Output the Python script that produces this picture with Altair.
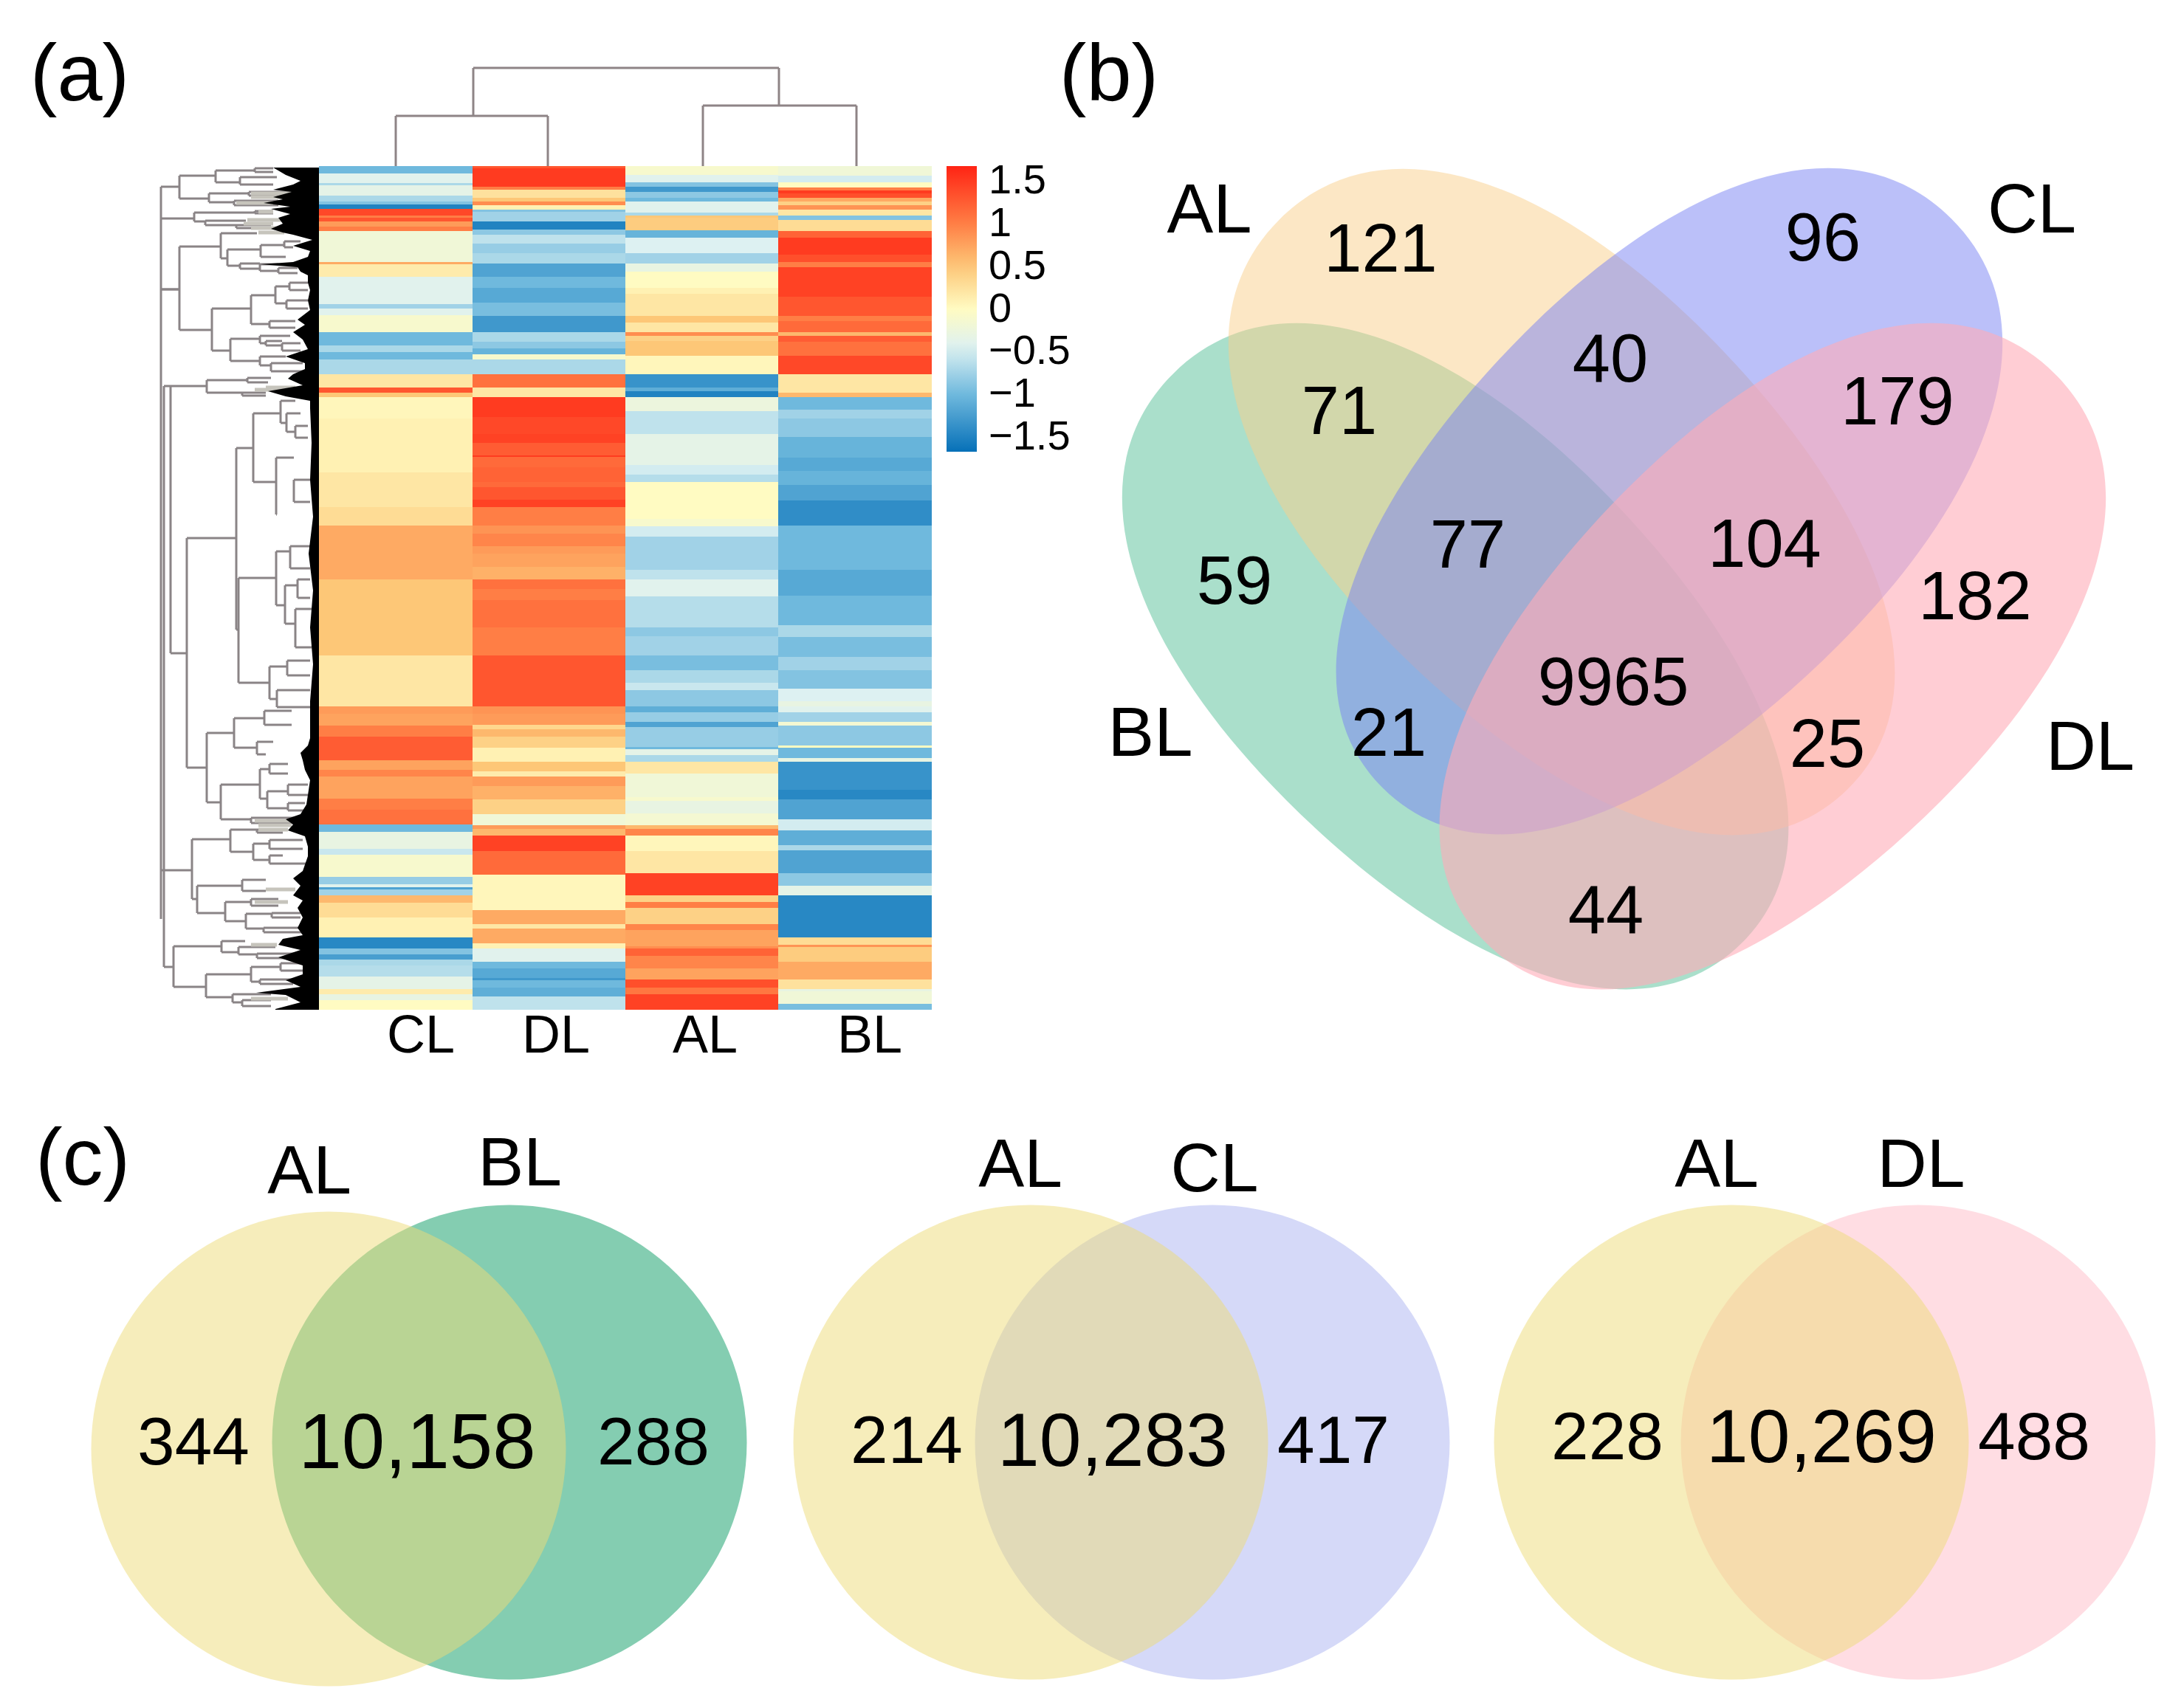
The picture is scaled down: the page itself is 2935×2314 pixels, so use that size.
import altair as alt
import pandas as pd

FONT = "Liberation Sans"

# ---------- heatmap ----------
col_names = ["CL", "DL", "AL", "BL"]
col_left = [432, 640, 847, 1054]
col_right = [640, 847, 1054, 1262]

CL_edges = [225,235,248,251,265,273,277,283,292,295,300,307,313,355,358,375,412,418,427,450,457,468,477,487,507,525,532,538,
            567,640,687,712,785,888,957,967,983,998,1030,1043,1052,1082,1097,1117,1127,1150,1158,1188,1198,1202,1205,1213,1223,1243,1270,1285,1293,1300,1308,1323,1340,1347,1355,1368]
CL_vals = [-1.0,-0.4,-0.7,-0.35,-0.7,-0.9,-1.5,1.4,1.0,1.3,0.8,1.0,-0.2,0.7,0.15,-0.4,-0.75,-0.4,-0.1,-1.0,-1.0,-0.7,-1.0,-0.7,0.2,1.3,0.5,
           0.05,0.1,0.2,0.3,0.7,0.5,0.2,0.8,0.75,1.0,1.25,0.75,0.95,0.75,1.0,1.1,-1.0,-0.3,-0.55,-0.1,-0.8,-0.4,-1.2,-0.75,0.6,0.3,0.1,-1.45,-0.9,-1.25,-0.7,-0.65,-0.35,0.15,-0.3,0.0]

DL_edges = [225,228,253,257,268,273,278,284,287,300,311,318,330,343,357,375,390,410,428,450,463,472,480,487,507,525,538,
            565,588,600,617,619,633,653,660,677,687,712,723,740,750,768,785,798,813,850,888,957,967,982,988,998,1013,1032,1045,1052,1065,1083,1103,1118,1123,1132,1153,1185,1233,1252,1258,1278,1285,1303,1312,1325,1328,1338,1350,1368]
DL_vals = [1.3,1.5,1.0,0.25,0.5,0.9,0.1,-0.9,-0.75,-1.5,-0.85,-0.6,-0.8,-0.7,-1.2,-1.0,-1.15,-0.95,-1.3,-0.7,-0.85,-1.05,-0.1,-0.7,1.1,0.2,
           1.5,1.4,1.45,1.25,1.5,1.15,1.2,1.15,1.3,1.45,1.0,0.85,0.95,0.8,0.75,0.65,1.1,1.0,1.1,1.0,1.3,0.85,0.8,0.35,0.6,0.4,0.1,0.5,0.15,0.8,0.65,0.4,-0.2,0.8,0.6,1.45,1.15,0.05,0.7,0.2,0.7,0.1,-0.4,-1.0,-1.15,-1.3,-1.0,-1.1,-0.6]

AL_edges = [225,237,247,253,260,268,273,288,292,295,312,322,343,357,368,390,398,428,437,450,455,462,482,507,525,530,538,
            557,588,630,643,653,703,713,727,772,785,808,850,862,888,908,925,935,957,965,978,985,1012,1015,1023,1032,1048,1080,1085,1102,1118,1123,1132,1153,1183,1213,1222,1230,1252,1260,1282,1285,1295,1312,1327,1338,1347,1368]
AL_vals = [-0.1,-0.4,-0.9,-1.3,-0.85,-1.0,-0.4,-0.7,0.5,0.45,-1.05,-0.45,-0.75,-0.3,0.0,0.1,0.2,0.5,0.2,0.9,0.4,0.5,0.05,-1.35,-1.1,-1.5,
           -0.25,-0.6,-0.35,-0.5,-0.65,0.0,-0.1,-0.5,-0.75,-0.6,-0.4,-0.65,-0.85,-0.75,-0.95,-0.7,-0.55,-0.85,-1.1,-0.8,-1.2,-0.8,-1.0,-0.35,-0.7,0.2,-0.2,-0.1,-0.3,-0.15,0.6,0.95,0.05,0.2,1.45,0.4,1.0,0.4,0.95,0.75,0.9,1.2,0.95,0.75,1.35,1.05,1.45]

BL_edges = [225,238,247,254,258,262,268,273,278,284,292,298,313,322,345,355,362,402,428,435,450,455,463,482,507,525,532,538,
            555,567,592,620,638,657,678,712,772,807,847,863,890,908,933,950,957,965,978,983,1010,1013,1027,1032,1070,1083,1110,1125,1145,1152,1183,1200,1213,1270,1280,1283,1303,1327,1340,1343,1360,1368]
BL_vals = [-0.2,-0.5,0.0,1.0,1.5,1.35,0.7,0.4,0.85,0.2,-0.9,0.3,1.2,1.5,1.35,1.0,1.45,1.3,1.0,1.15,0.6,1.25,1.1,1.4,0.2,0.2,0.6,
           -1.0,-0.75,-0.85,-1.05,-1.15,-1.05,-1.2,-1.4,-1.0,-1.15,-1.0,-0.7,-0.95,-0.75,-0.9,-0.45,-0.3,-0.4,-0.75,-0.15,-0.85,0.0,-1.0,-0.3,-1.35,-1.45,-1.2,-0.5,-1.1,-0.7,-1.2,-0.85,-0.35,-1.45,0.3,0.85,0.45,0.7,0.25,-0.3,-0.2,-0.95]

color_domain = [-1.67, -1.0, -0.45, 0.0, 0.5, 1.0, 1.67]
color_range = ["#0670B8", "#6FB9DD", "#DDF1F2", "#FFFBC2", "#FDC777", "#FF7E45", "#FF2414"]
legend_values = [1.5, 1, 0.5, 0, -0.5, -1, -1.5]

# ---------- dendrograms: x of bracket, its y span, and where each arm ends ----------
top_x = [641, 1055, 847]
top_y1 = [157, 143, 92]
top_y2 = [225, 225, 157]
top_xa = [536, 952, 641]
top_xb = [742, 1160, 1055]
top_ya = [225, 225, 157]
top_yb = [225, 225, 143]

node_x  = [218, 243, 292, 325, 345, 283, 317, 337, 218, 263, 278, 320, 345,
           218, 243, 299, 308, 353, 385, 325, 352, 377, 287, 340, 373, 392, 388, 365, 312, 352, 360, 382, 352, 367,
           222, 231, 280, 335, 328, 253, 320, 343, 380, 388, 400, 374, 398, 323, 374, 393, 386, 403, 400, 365, 389, 375,
           280, 299, 352, 365, 362, 390, 390, 340, 317, 348, 358,
           218, 260, 312, 348, 343, 365, 365, 267, 328, 305, 340, 333, 368, 357,
           235, 300, 323, 348, 279, 340, 380, 352, 315, 328]
node_y1 = [253, 238, 231, 240, 228, 262, 272, 260, 296, 288, 299, 305, 286,
           392, 334, 316, 338, 332, 327, 357, 358, 363, 418, 400, 388, 383, 407, 435, 459, 455, 462, 465, 483, 492,
           523, 523, 515, 512, 532, 729, 607, 560, 543, 560, 577, 620, 650, 783, 747, 740, 793, 785, 825, 903, 895, 935,
           993, 1063, 1042, 1035, 1072, 1063, 1088, 1108, 973, 1005, 963,
           1179, 1137, 1124, 1124, 1143, 1138, 1159, 1200, 1192, 1222, 1218, 1238, 1237, 1257,
           1282, 1275, 1283, 1292, 1320, 1310, 1305, 1327, 1347, 1355]
node_y2 = [296, 269, 247, 250, 233, 274, 278, 265, 392, 300, 305, 309, 289,
           1179, 447, 350, 360, 348, 335, 364, 367, 370, 475, 439, 411, 393, 418, 444, 489, 465, 468, 475, 495, 503,
           1310, 885, 532, 518, 536, 1040, 853, 653, 573, 585, 593, 697, 680, 925, 820, 770, 845, 810, 877, 947, 915, 958,
           1087, 1110, 1082, 1048, 1095, 1077, 1098, 1115, 1013, 1022, 982,
           1245, 1218, 1154, 1128, 1165, 1150, 1170, 1237, 1207, 1248, 1227, 1258, 1243, 1263,
           1337, 1290, 1293, 1298, 1351, 1330, 1315, 1333, 1358, 1363]
node_xa = [243, 292, 345, 375, 370, 337, 377, 393, 263, 345, 333, 367, 370,
           243, 299, 348, 353, 385, 407, 352, 377, 403, 340, 373, 392, 417, 417, 400, 352, 393, 382, 407, 387, 410,
           231, 280, 335, 367, 360, 320, 343, 380, 400, 407, 417, 398, 420, 374, 393, 420, 403, 420, 422, 389, 420, 420,
           317, 352, 365, 390, 390, 417, 413, 403, 358, 370, 395,
           260, 312, 348, 383, 365, 410, 383, 328, 360, 340, 377, 368, 407, 410,
           300, 332, 373, 407, 340, 380, 410, 397, 367, 367]
node_xb = [218, 283, 325, 370, 370, 317, 377, 393, 243, 278, 320, 367, 370,
           218, 287, 308, 325, 387, 397, 352, 377, 403, 312, 365, 388, 417, 417, 400, 352, 360, 382, 407, 367, 410,
           235, 253, 328, 363, 360, 280, 323, 374, 388, 400, 417, 375, 420, 365, 386, 420, 400, 420, 422, 375, 420, 420,
           299, 340, 362, 390, 390, 417, 413, 403, 348, 360, 395,
           218, 267, 343, 383, 365, 410, 417, 305, 360, 333, 377, 357, 407, 410,
           279, 323, 348, 407, 315, 352, 410, 397, 328, 367]

fringe_y  = [262, 267, 275, 298, 303, 309, 287, 315, 528, 525, 1112, 1118, 1124, 1205, 1222, 1280, 1353]
fringe_x1 = [340, 340, 320, 335, 330, 340, 350, 350, 345, 360, 345, 350, 350, 360, 345, 340, 340]
fringe_x2 = [395, 395, 370, 390, 370, 380, 370, 385, 400, 400, 400, 395, 390, 400, 390, 375, 390]

wedge_y = [227,237,245,250,257,260,267,270,275,280,283,290,295,303,310,315,318,325,333,340,348,355,358,362,368,373,383,393,407,420,433,440,450,460,473,483,492,500,507,513,522,530,537,543,553,
           600,650,700,750,800,850,900,950,1000,1010,1020,1030,1043,1057,1077,1090,1103,1110,1117,1125,1133,1147,1160,1180,1190,1200,1213,1220,1230,1243,1257,1267,1272,1280,1287,1297,1308,1320,1328,1337,1345,1348,1358,1367,1368]
wedge_x = [370,387,407,397,370,395,370,383,357,393,367,393,377,383,367,383,397,423,397,420,417,397,353,403,407,417,417,420,417,420,403,413,397,410,417,387,413,413,397,390,410,363,387,420,420,
           422,420,424,418,424,420,424,420,420,417,407,410,413,420,417,415,407,387,397,390,413,417,417,410,397,407,397,410,403,410,403,410,383,377,407,377,410,410,387,407,347,387,407,373,373]

# ---------- four-set Venn ----------
venn_names = ["BL", "AL", "CL", "DL"]
venn_x = [1974, 2118, 2258, 2398]
venn_y = [892, 683, 682, 892]
venn_angle = [45, 45, 135, 135]
venn_color = ["#55BF97", "#F9CF8C", "#7781F3", "#FFACB8"]
venn_opacity = [0.5, 0.5, 0.5, 0.6]
ELLIPSE_WIDTH = 1090

# ---------- two-set Venns ----------
circle_x = [690, 445, 1642, 1396, 2598, 2345]
circle_y = [1954, 1963, 1954, 1954, 1954, 1954]
circle_color = ["#099B63", "#EDDB77", "#ABB3F1", "#EDDB77", "#FFBBC7", "#EDDB77"]
CIRCLE_WIDTH = 643

# ---------- texts ----------
txt = ["(a)", "(b)", "(c)",
       "CL", "DL", "AL", "BL",
       "AL", "CL", "BL", "DL", "121", "96", "40", "71", "179", "77", "104", "59", "182", "9965", "21", "25", "44",
       "AL", "BL", "344", "10,158", "288",
       "AL", "CL", "214", "10,283", "417",
       "AL", "DL", "228", "10,269", "488"]
txt_x = [108, 1502, 112,
         570, 753, 955, 1178,
         1638, 2752, 1558, 2831, 1870, 2469, 2181, 1814, 2570, 1988, 2390, 1672, 2675, 2185, 1881, 2475, 2175,
         419, 704, 262, 565, 885,
         1382, 1645, 1228, 1507, 1806,
         2325, 2602, 2177, 2467, 2755]
txt_y = [103, 103, 1572,
         1404, 1404, 1404, 1404,
         287, 287, 996, 1015, 340, 325, 489, 560, 547, 741, 740, 790, 811, 927, 996, 1011, 1236,
         1589, 1578, 1957, 1957, 1957,
         1580, 1586, 1955, 1955, 1955,
         1580, 1580, 1950, 1950, 1950]
txt_size = [110, 110, 110,
            72, 72, 72, 72,
            94, 94, 94, 94, 92, 92, 92, 92, 92, 92, 92, 92, 92, 92, 92, 92, 92,
            93, 93, 91, 105, 91,
            93, 93, 91, 102, 91,
            93, 93, 91, 102, 91]

# ---------- build chart ----------
W, H = 2919, 2298
sx = alt.Scale(domain=[8, 8 + W], nice=False, zero=False)
sy = alt.Scale(domain=[8 + H, 8], nice=False, zero=False)
X = lambda f: alt.X(f, type="quantitative", scale=sx, axis=None)
Y = lambda f: alt.Y(f, type="quantitative", scale=sy, axis=None)

rows = []
for i, (e, v) in enumerate([(CL_edges, CL_vals), (DL_edges, DL_vals), (AL_edges, AL_vals), (BL_edges, BL_vals)]):
    for k in range(len(v)):
        rows.append(dict(col=col_names[i], xa=col_left[i], xb=col_right[i], ya=e[k], yb=e[k + 1], z=v[k]))
heat_df = pd.DataFrame(rows)

heat = alt.Chart(heat_df).mark_rect().encode(
    x=X("xa"), x2="xb", y=Y("ya"), y2="yb",
    fill=alt.Fill("z:Q",
        scale=alt.Scale(domain=color_domain, range=color_range, interpolate="rgb", clamp=True),
        legend=alt.Legend(orient="none", legendX=1282 - 8, legendY=225 - 8, direction="vertical", title=None,
                          gradientLength=387, gradientThickness=41, gradientStrokeWidth=0,
                          values=legend_values, labelFontSize=56, labelFont=FONT, labelColor="black",
                          labelOffset=16, labelOverlap=False,
                          labelExpr="replace(toString(datum.value), '-', '\u2212')")),
)

segs = []
for x, y1, y2, xa, xb, ya, yb in zip(top_x, top_y1, top_y2, top_xa, top_xb, top_ya, top_yb):
    segs += [dict(x=xa, x2=xb, y=y1, y2=y1), dict(x=xa, x2=xa, y=y1, y2=ya), dict(x=xb, x2=xb, y=y1, y2=yb)]
top_dendro = alt.Chart(pd.DataFrame(segs)).mark_rule(color="#8E8486", strokeWidth=3).encode(
    x=X("x"), x2="x2", y=Y("y"), y2="y2")

segs = []
for x, y1, y2, xa, xb in zip(node_x, node_y1, node_y2, node_xa, node_xb):
    segs += [dict(x=x, x2=x, y=y1, y2=y2), dict(x=x, x2=xa, y=y1, y2=y1), dict(x=x, x2=xb, y=y2, y2=y2)]
left_dendro = alt.Chart(pd.DataFrame(segs)).mark_rule(color="#8A8486", strokeWidth=3).encode(
    x=X("x"), x2="x2", y=Y("y"), y2="y2")

fringe = alt.Chart(pd.DataFrame(dict(y=fringe_y, a=fringe_x1, b=fringe_x2))).mark_rule(
    color="#C6C4BC", strokeWidth=5).encode(x=X("a"), x2="b", y=Y("y"))

wedge = alt.Chart(pd.DataFrame(dict(x=wedge_x, y=wedge_y, r=[432] * len(wedge_x)))).mark_area(
    orient="horizontal", color="black").encode(
    x=X("x"), x2="r", y=alt.Y("y", type="quantitative", scale=sy, axis=None, sort=None))

ellipse_path = ("M-1,0 C-1,-0.36 -0.6,-0.55 -0.05,-0.55 C0.5,-0.55 1,-0.38 1,0 "
                "C1,0.38 0.5,0.55 -0.05,0.55 C-0.6,0.55 -1,0.36 -1,0 Z")
venn4 = []
for n, x, y, a, c, o in zip(venn_names, venn_x, venn_y, venn_angle, venn_color, venn_opacity):
    venn4.append(alt.Chart(pd.DataFrame(dict(name=[n], x=[x], y=[y]))).mark_point(
        shape=ellipse_path, filled=True, fill=c, opacity=o, strokeWidth=0,
        size=ELLIPSE_WIDTH ** 2, angle=a).encode(x=X("x"), y=Y("y")))

circles = []
for x, y, c in zip(circle_x, circle_y, circle_color):
    circles.append(alt.Chart(pd.DataFrame(dict(x=[x], y=[y]))).mark_circle(
        fill=c, opacity=0.5, size=CIRCLE_WIDTH ** 2, strokeWidth=0).encode(x=X("x"), y=Y("y")))

text = alt.Chart(pd.DataFrame(dict(t=txt, x=txt_x, y=txt_y, s=txt_size))).mark_text(
    font=FONT, color="black", align="center", baseline="middle").encode(
    x=X("x"), y=Y("y"), text="t:N", size=alt.Size("s:Q", scale=None))

chart = alt.layer(left_dendro, fringe, wedge, top_dendro, heat, *venn4, *circles, text).properties(
    width=W, height=H, padding=0, background="white", autosize=alt.AutoSizeParams(type="none")
).configure_view(stroke=None)

chart.save("out.html", embed_options={"renderer": "svg", "actions": False})
